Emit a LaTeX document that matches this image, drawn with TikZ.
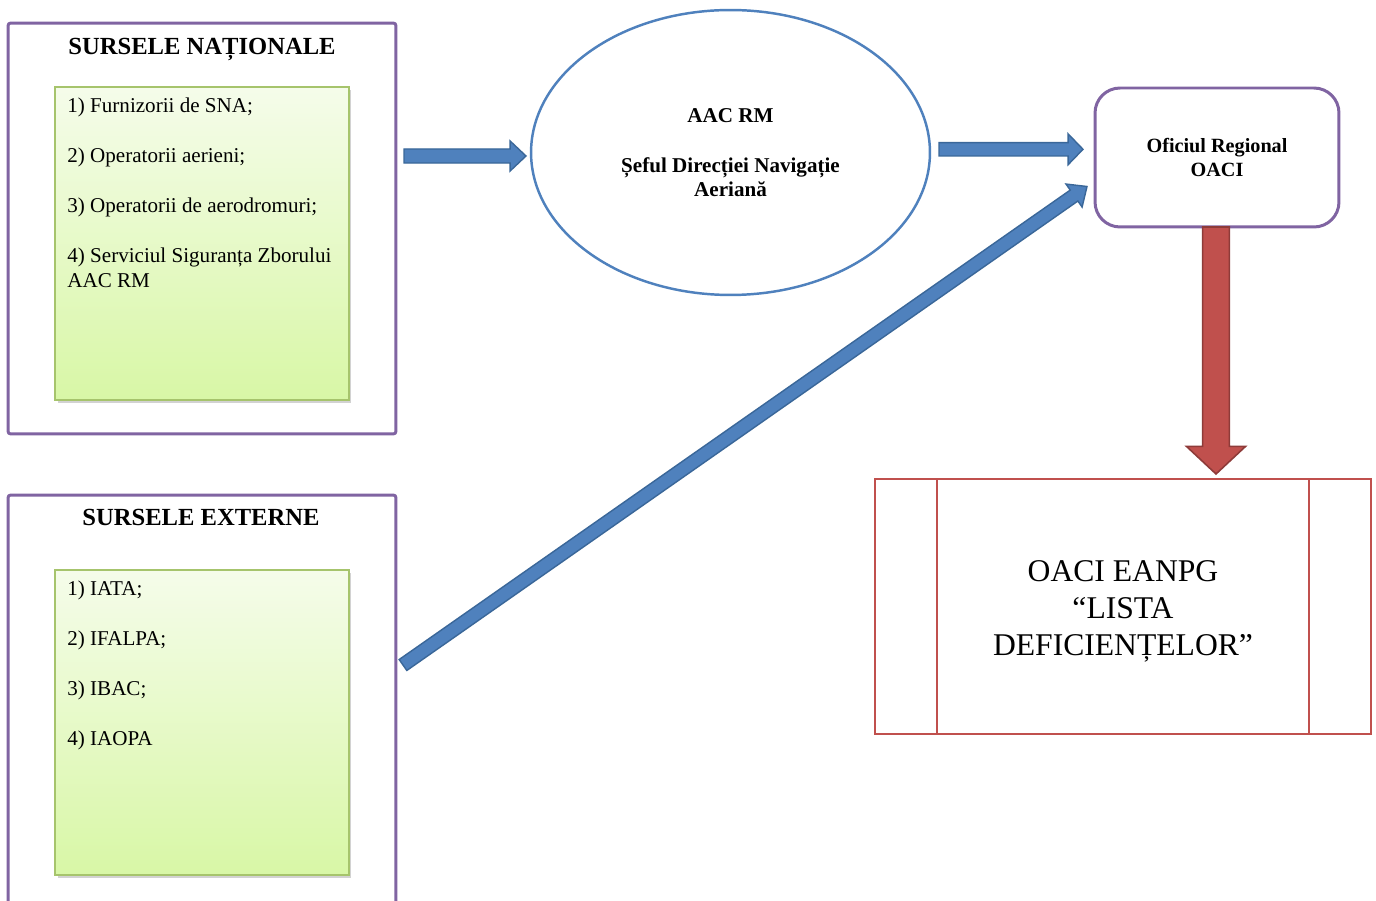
\documentclass[tikz,border=0pt]{standalone}
\usepackage{fontspec}
\setmainfont{Liberation Serif}
\usetikzlibrary{shapes.geometric,calc,shadows}

\definecolor{boxPurple}{HTML}{8064A2}
\definecolor{listBorder}{HTML}{A6C46C}
\definecolor{listTop}{HTML}{F5FCEA}
\definecolor{listBottom}{HTML}{D8F7A6}
\definecolor{ellBlue}{HTML}{4F81BD}
\definecolor{arrowBlue}{HTML}{4F81BD}
\definecolor{arrowBlueDark}{HTML}{3A6799}
\definecolor{arrowRed}{HTML}{C0504D}
\definecolor{arrowRedDark}{HTML}{8E3B39}
\definecolor{listRed}{HTML}{C0504D}

% block arrow: style, from, to, half shaft, half head, head length
\newcommand{\blockarrow}[6]{%
  \coordinate (hb) at ($(#3)!#6!(#2)$);
  \filldraw[#1] ($(#2)!#4!90:(#3)$) -- ($(hb)!#4!90:(#3)$) -- ($(hb)!#5!90:(#3)$)
    -- (#3) -- ($(hb)!#5!-90:(#3)$) -- ($(hb)!#4!-90:(#3)$) -- ($(#2)!#4!-90:(#3)$) -- cycle;}

\begin{document}
\begin{tikzpicture}[x=0.02cm,y=-0.02cm]
\tikzstyle{outer}=[rectangle,draw=boxPurple,line width=1.7pt,rounded corners=1.5pt,inner sep=0pt]
\tikzstyle{list}=[rectangle,draw=listBorder,line width=0.8pt,top color=listTop,bottom color=listBottom,inner sep=0pt,
  drop shadow={shadow xshift=0.05cm,shadow yshift=-0.06cm,opacity=0.35}]
\tikzstyle{items}=[anchor=north west,inner sep=0pt,align=left,font=\fontsize{12}{14.2}\selectfont]
\tikzstyle{title}=[anchor=base,inner sep=0pt,font=\fontsize{14}{16}\selectfont\bfseries]
\tikzstyle{blueArrow}=[fill=arrowBlue,draw=arrowBlueDark,line width=0.8pt,line join=miter]
\tikzstyle{redArrow}=[fill=arrowRed,draw=arrowRedDark,line width=0.9pt,line join=miter]

\path[fill=white,use as bounding box] (0,0) rectangle (1376,901);

\node[outer,minimum width=7.76cm,minimum height=8.22cm] (natBox) at (202,228.5) {};
\node[title] (natTitle) at (202,55) {SURSELE NAȚIONALE};
\node[list,minimum width=5.88cm,minimum height=6.26cm] (natList) at (202,243.5) {};
\node[items] (natItems) at (67,98) {1) Furnizorii de SNA;\\[14.2pt]
  2) Operatorii aerieni;\\[14.2pt]
  3) Operatorii de aerodromuri;\\[14.2pt]
  4) Serviciul Siguranța Zborului\\ AAC RM};

\node[outer,minimum width=7.76cm,minimum height=8.9cm] (extBox) at (202,717.5) {};
\node[title] (extTitle) at (201,526) {SURSELE EXTERNE};
\node[list,minimum width=5.88cm,minimum height=6.1cm] (extList) at (202,722.5) {};
\node[items] (extItems) at (67,581) {1) IATA;\\[14.2pt]
  2) IFALPA;\\[14.2pt]
  3) IBAC;\\[14.2pt]
  4) IAOPA};

\node[ellipse,draw=ellBlue,line width=1.4pt,minimum width=7.98cm,minimum height=5.7cm,align=center,
  font=\fontsize{12}{13.6}\selectfont\bfseries] (aacRM) at (730.5,152.5)
  {AAC RM\\[14.8pt] Șeful Direcției Navigație\\ Aeriană};

\node[rectangle,rounded corners=0.5cm,draw=boxPurple,line width=1.7pt,minimum width=4.88cm,minimum height=2.78cm,
  align=center,font=\fontsize{11.5}{13.6}\selectfont\bfseries] (oaciBox) at (1217,157.5) {Oficiul Regional\\ OACI};

\node[rectangle,draw=listRed,line width=1.6pt,outer sep=0pt,minimum width=9.92cm,minimum height=5.1cm,
  font=\fontsize{18}{21}\selectfont] (eanpgBox) at (1123,606.5)
  {\raisebox{-2.8pt}[\height][\depth]{\parbox{6cm}{\centering OACI EANPG\\ “LISTA\\ DEFICIENȚELOR”}}};
\draw[listRed,line width=1.6pt] ([xshift=1.24cm]eanpgBox.north west) -- ([xshift=1.24cm]eanpgBox.south west);
\draw[listRed,line width=1.6pt] ([xshift=-1.24cm]eanpgBox.north east) -- ([xshift=-1.24cm]eanpgBox.south east);

%block arrows between the boxes
\coordinate (natOut) at (404,156);
\coordinate (aacIn) at (526,156);
\blockarrow{blueArrow}{natOut}{aacIn}{4pt}{8.5pt}{9pt}

\coordinate (aacOut) at (939,149.3);
\coordinate (oaciIn) at (1083,149.3);
\blockarrow{blueArrow}{aacOut}{oaciIn}{3.8pt}{8.8pt}{8.5pt}

\coordinate (extOut) at (403,665);
\coordinate (oaciInLow) at (1087,186.5);
\blockarrow{blueArrow}{extOut}{oaciInLow}{3.8pt}{8pt}{9pt}

\coordinate (oaciOut) at (1216,227);
\coordinate (eanpgIn) at (1216,474);
\blockarrow{redArrow}{oaciOut}{eanpgIn}{7.6pt}{16.8pt}{15.7pt}

\end{tikzpicture}
\end{document}
